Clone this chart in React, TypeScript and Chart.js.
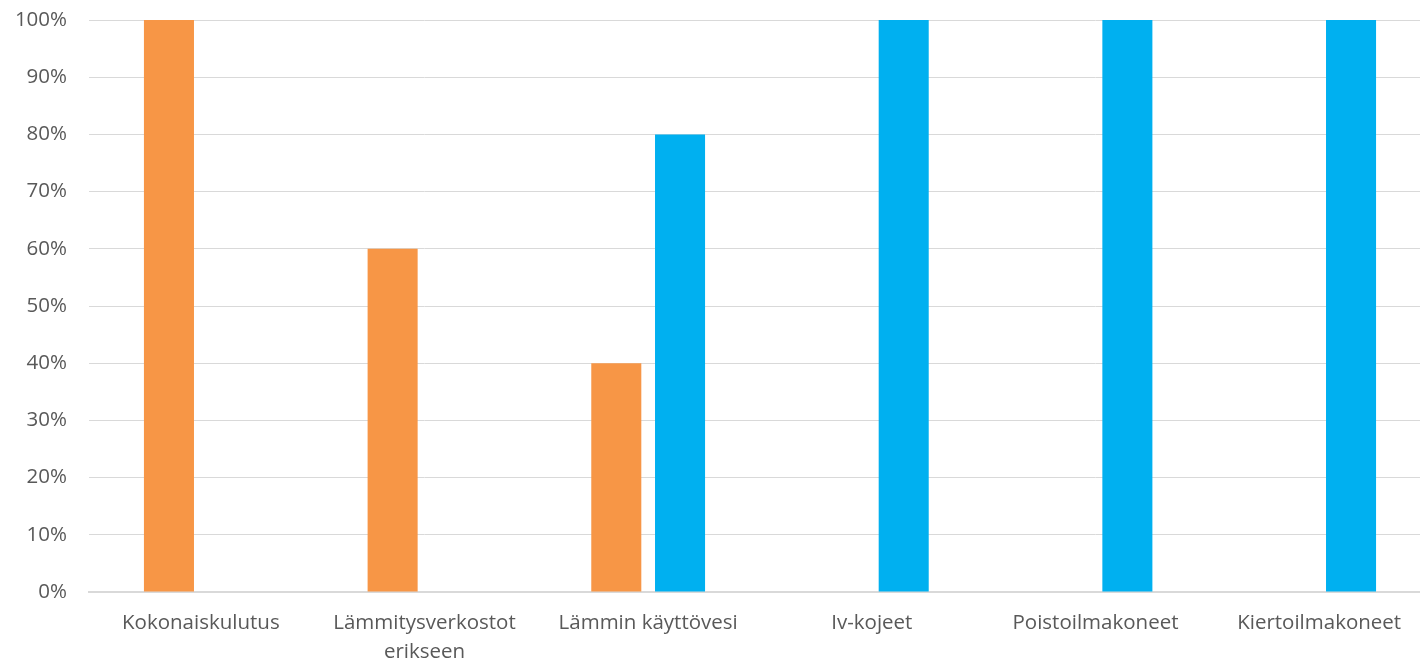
import React, { useEffect, useRef } from "react";
import { Chart, registerables } from "chart.js";

Chart.register(...registerables);

const categories: (string | string[])[] = [
  "Kokonaiskulutus",
  ["Lämmitysverkostot", "erikseen"],
  "Lämmin käyttövesi",
  "Iv-kojeet",
  "Poistoilmakoneet",
  "Kiertoilmakoneet",
];
const orangeValues = [100, 60, 40, 0, 0, 0];
const blueValues = [0, 0, 80, 100, 100, 100];
const yMin = 0;
const yMax = 100;
const yStep = 10;

export default function App() {
  const ref = useRef<HTMLCanvasElement | null>(null);
  useEffect(() => {
    if (!ref.current) return;
    const font = { family: "'Open Sans', sans-serif", size: 20.5 };
    const chart = new Chart(ref.current, {
      type: "bar",
      data: {
        labels: categories as any,
        datasets: [
          {
            label: "A",
            data: orangeValues,
            backgroundColor: "#F79646",
            borderWidth: 0,
          },
          {
            label: "B",
            data: blueValues,
            backgroundColor: "#00B0F0",
            borderWidth: 0,
          },
        ],
      },
      options: {
        animation: false,
        responsive: false,
        layout: { padding: { top: 20, right: 0, bottom: 0, left: 0 } },
        plugins: { legend: { display: false }, tooltip: { enabled: false } },
        datasets: { bar: { categoryPercentage: 0.57, barPercentage: 0.785 } },
        scales: {
          x: {
            grid: { display: false, drawTicks: false },
            border: { display: true, color: "#D9D9D9", width: 2 },
            ticks: {
              color: "#595959",
              font: { ...font, lineHeight: 1.45 },
              padding: 16,
              maxRotation: 0,
              autoSkip: false,
            },
            afterFit: (s: any) => {
              s.height = 70;
              s.paddingLeft = 0;
              s.paddingRight = 0;
            },
          },
          y: {
            min: yMin,
            max: yMax,
            grid: { color: "#D9D9D9", lineWidth: 1, drawTicks: false },
            border: { display: false },
            ticks: {
              stepSize: yStep,
              color: "#595959",
              font,
              padding: 22,
              callback: (v: any) => v + "%",
            },
            afterFit: (s: any) => {
              s.width = 89;
              s.paddingTop = 0;
              s.paddingBottom = 0;
            },
          },
        },
      },
    });
    return () => chart.destroy();
  }, []);
  return (
    <div
      style={{
        position: "absolute",
        left: 0,
        top: 0,
        width: 1420,
        height: 662,
        overflow: "hidden",
        background: "#fff",
      }}
    >
      <canvas ref={ref} width={1431} height={662} style={{ display: "block" }} />
    </div>
  );
}
